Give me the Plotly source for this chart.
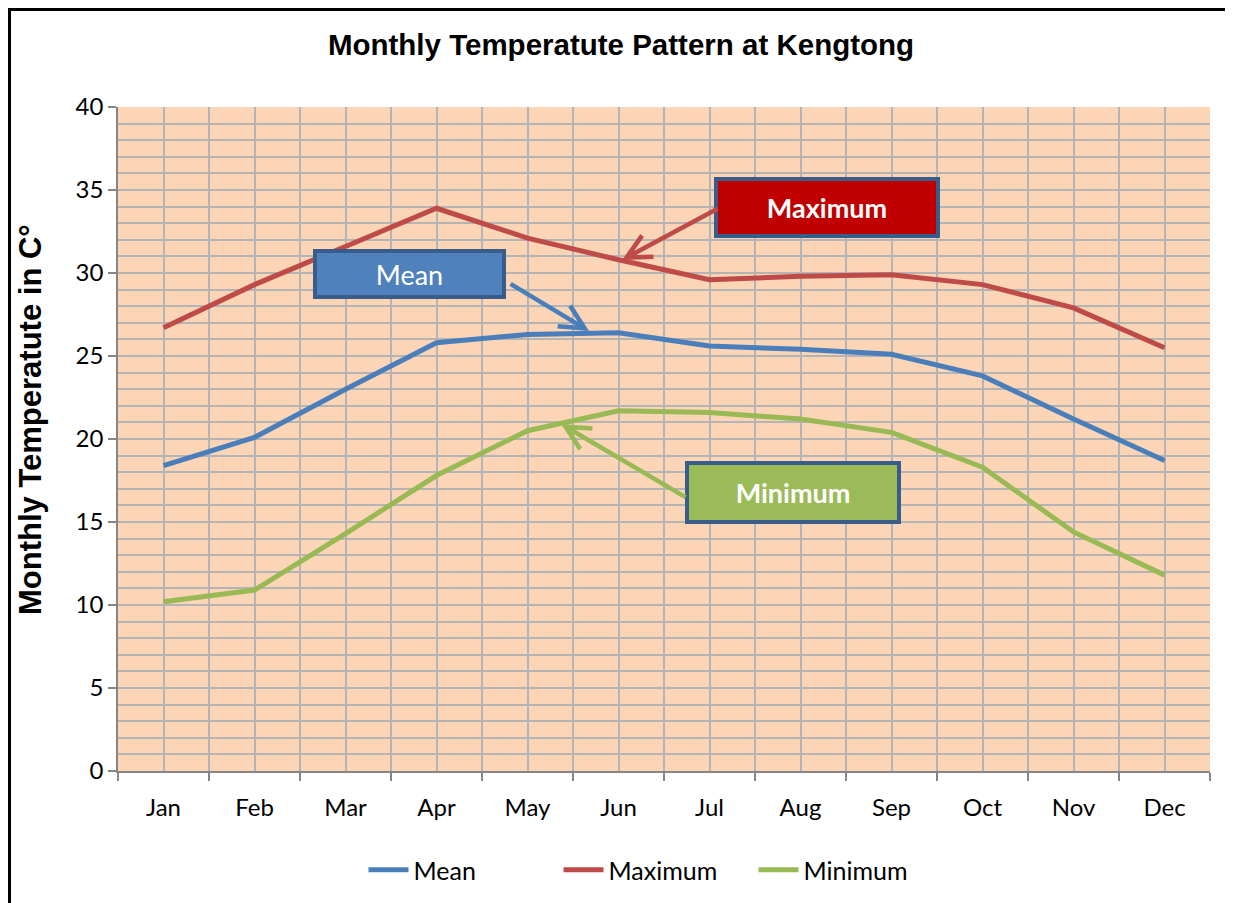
import plotly.graph_objects as go

months = ["Jan", "Feb", "Mar", "Apr", "May", "Jun", "Jul", "Aug", "Sep", "Oct", "Nov", "Dec"]
mean_t = [18.4, 20.1, 23.0, 25.8, 26.3, 26.4, 25.6, 25.4, 25.1, 23.8, 21.2, 18.7]
max_t = [26.7, 29.3, 31.6, 33.9, 32.1, 30.8, 29.6, 29.8, 29.9, 29.3, 27.9, 25.5]
min_t = [10.2, 10.9, 14.3, 17.8, 20.5, 21.7, 21.6, 21.2, 20.4, 18.3, 14.4, 11.8]

series_names = ["Mean", "Maximum", "Minimum"]
series_colors = ["#4A7EBB", "#BE4B48", "#98B954"]

x_idx = list(range(len(months)))

# page is offset by the body margin (8px)
OFF = 8
W, H = 1225, 895
ML, MR, MT, MB = 110, 23, 99, 132
PW, PH = W - ML - MR, H - MT - MB

fig = go.Figure()
for name, vals, col in zip(series_names, [mean_t, max_t, min_t], series_colors):
    fig.add_trace(go.Scatter(x=x_idx, y=vals, mode="lines", name=name,
                             line=dict(color=col, width=5)))

tick_font = dict(family="Lato, Calibri, sans-serif", size=24, color="#000000")
grid_col = "#B4B4B4"

fig.update_xaxes(
    range=[-0.5, 11.5], tickmode="array", tickvals=x_idx, ticktext=months,
    ticks="outside", ticklen=14, tickcolor="rgba(0,0,0,0)",
    showgrid=True, gridcolor=grid_col, gridwidth=1.5,
    showline=True, linecolor="#868686", linewidth=1.5,
    tickfont=tick_font, zeroline=False, fixedrange=True,
    minor=dict(tickmode="array", tickvals=[i - 0.5 for i in range(13)],
               ticks="outside", ticklen=8, tickcolor="#868686", tickwidth=1.5,
               showgrid=True, gridcolor=grid_col, gridwidth=1.5),
)
fig.update_yaxes(
    range=[0, 40], dtick=5, tick0=0,
    ticks="outside", ticklen=8, tickcolor="#868686", tickwidth=1.5,
    showgrid=True, gridcolor=grid_col, gridwidth=1.5,
    showline=True, linecolor="#868686", linewidth=1.5,
    tickfont=tick_font, zeroline=False,
    minor=dict(dtick=1, showgrid=True, gridcolor=grid_col, gridwidth=1.5),
)

# page pixel -> data coordinates (plot area spans page x 118..1210, y 107..771)
def px2x(px):
    return (px - (ML + OFF)) / (PW / 12.0) - 0.5

def py2y(py):
    return (MT + OFF + PH - py) / (PH / 40.0)

# y axis title placed as rotated text (paper coords)
fig.add_annotation(
    x=((30 - OFF) - ML) / PW, y=(MT + PH - (420 - OFF)) / PH,
    xref="paper", yref="paper",
    text="<b>Monthly Temperatute in C°</b>", textangle=-90, showarrow=False,
    font=dict(family="Liberation Sans, Arial, sans-serif", size=31, color="#000000"),
    xanchor="center", yanchor="middle",
)

# callout boxes (page pixel extents)
boxes = [
    ("Mean", False, "#4F81BD", (313, 506, 249, 299)),
    ("Maximum", True, "#C00000", (714, 940, 177, 238)),
    ("Minimum", True, "#9BBB59", (685, 901, 461, 524)),
]
for text, bold, fill, (x0, x1, y0, y1) in boxes:
    bw = 4
    fig.add_annotation(
        x=px2x((x0 + x1) / 2), y=py2y((y0 + y1) / 2), xref="x", yref="y",
        text=f"<b>{text}</b>" if bold else text, showarrow=False,
        font=dict(family="Lato, Calibri, sans-serif", size=27, color="#FFFFFF"),
        bgcolor=fill, bordercolor="#385D8A", borderwidth=bw, borderpad=0,
        width=(x1 - x0) - 2 * bw, height=(y1 - y0) - 2 * bw,
        xanchor="center", yanchor="middle",
    )

# arrows (tail -> tip), page pixels
arrows = [
    ("#4A7EBB", (509, 283), (589, 331)),
    ("#BE4B48", (719, 208), (622, 260)),
    ("#98B954", (687, 498), (561, 424)),
]
for col, (tx, ty), (hx, hy) in arrows:
    fig.add_annotation(
        x=px2x(hx), y=py2y(hy), ax=px2x(tx), ay=py2y(ty),
        xref="x", yref="y", axref="x", ayref="y", text="",
        showarrow=True, arrowhead=5, arrowsize=1.05, arrowwidth=4.5,
        arrowcolor=col, standoff=0, startstandoff=0,
    )

# outer frame of the chart (figure pixel coords)
fx0, fx1, fy0, fy1 = 1.5, 1220, 1.5, 920
fig.add_shape(type="rect", xref="paper", yref="paper",
              x0=(fx0 - ML) / PW, x1=(fx1 - ML) / PW,
              y0=(MT + PH - fy1) / PH, y1=(MT + PH - fy0) / PH,
              line=dict(color="#000000", width=3), fillcolor="rgba(0,0,0,0)", layer="below")

fig.update_layout(
    width=W, height=H,
    margin=dict(l=ML, r=MR, t=MT, b=MB),
    paper_bgcolor="#FFFFFF", plot_bgcolor="#FBD5B5",
    title=dict(text="<b>Monthly Temperatute Pattern at Kengtong</b>",
               font=dict(family="Liberation Sans, Arial, sans-serif", size=29.5, color="#000000"),
               x=(621 - OFF) / W, xref="container", xanchor="center",
               y=1 - (45 - OFF) / H, yref="container", yanchor="middle"),
    showlegend=True,
    legend=dict(orientation="h", x=(656 - OFF) / W, xref="container", xanchor="center",
                y=1 - (870 - OFF) / H, yref="container", yanchor="middle",
                font=dict(family="Lato, Calibri, sans-serif", size=25, color="#000000"),
                bgcolor="rgba(0,0,0,0)", itemwidth=40, tracegroupgap=0,
                entrywidth=140, entrywidthmode="pixels"),
)

fig.write_html("out.html")
